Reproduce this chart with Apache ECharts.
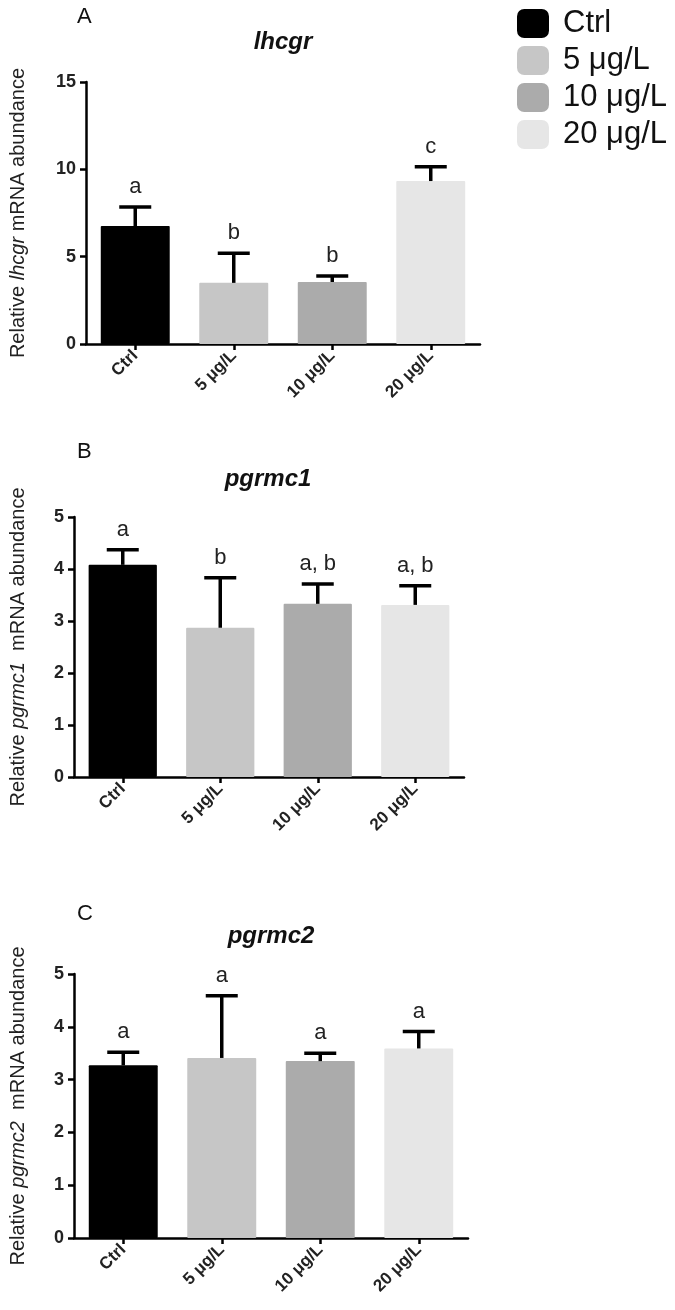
<!DOCTYPE html>
<html>
<head>
<meta charset="utf-8">
<script src="https://cdn.jsdelivr.net/npm/echarts@6/dist/echarts.min.js"></script>
<style>
html,body{margin:0;padding:0;background:#fff;}
#chart{width:675px;height:1310px;}
</style>
</head>
<body>
<div id="chart"></div>
<script>
// ---- data ----
const categories = ['Ctrl', '5 μg/L', '10 μg/L', '20 μg/L'];

const lhcgrMean = [6.75, 3.50, 3.55, 9.33];
const lhcgrErr = [1.09, 1.70, 0.35, 0.82];
const lhcgrLetters = ['a', 'b', 'b', 'c'];

const pgrmc1Mean = [4.08, 2.87, 3.33, 3.31];
const pgrmc1Err = [0.29, 0.96, 0.38, 0.37];
const pgrmc1Letters = ['a', 'b', 'a, b', 'a, b'];

const pgrmc2Mean = [3.27, 3.41, 3.35, 3.59];
const pgrmc2Err = [0.25, 1.18, 0.15, 0.32];
const pgrmc2Letters = ['a', 'a', 'a', 'a'];

const yTicksA = [0, 5, 10, 15];
const yTicksBC = [0, 1, 2, 3, 4, 5];

// ---- style ----
const barColors = ['#000000', '#c6c6c6', '#ababab', '#e6e6e6'];
const FONT = 'Arial, "Liberation Sans", Helvetica, sans-serif';

const panels = [
  { id: 'A', gene: 'lhcgr', mean: lhcgrMean, err: lhcgrErr, letters: lhcgrLetters, ticks: yTicksA,
    grid: { left: 83, top: 82, width: 397, height: 262 }, nameGap: 58, nameSep: ' ',
    tag: { x: 77, y: 6 }, title: { x: 283, y: 42 } },
  { id: 'B', gene: 'pgrmc1', mean: pgrmc1Mean, err: pgrmc1Err, letters: pgrmc1Letters, ticks: yTicksBC,
    grid: { left: 73, top: 517, width: 391, height: 260 }, nameGap: 46, nameSep: '  ',
    tag: { x: 77, y: 441 }, title: { x: 268, y: 479 } },
  { id: 'C', gene: 'pgrmc2', mean: pgrmc2Mean, err: pgrmc2Err, letters: pgrmc2Letters, ticks: yTicksBC,
    grid: { left: 73, top: 974, width: 395, height: 264 }, nameGap: 46, nameSep: '  ',
    tag: { x: 77, y: 903 }, title: { x: 271, y: 936 } }
];

const grids = [], xAxes = [], yAxes = [], series = [], graphics = [];

panels.forEach((p, pi) => {
  grids.push(p.grid);
  const axisLine = { show: true, lineStyle: { color: '#000', width: 2.5 } };
  xAxes.push({
    type: 'category', gridIndex: pi, data: categories,
    axisLine: axisLine,
    axisTick: { show: true, alignWithLabel: true, length: 6, lineStyle: { color: '#000', width: 2.5 } },
    axisLabel: { rotate: 45, margin: 9, fontSize: 17, fontWeight: 'bold', color: '#222', fontFamily: FONT, interval: 0 },
    splitLine: { show: false }
  });
  const tickMax = p.ticks[p.ticks.length - 1];
  yAxes.push({
    type: 'value', gridIndex: pi, min: p.ticks[0], max: tickMax, interval: p.ticks[1] - p.ticks[0],
    axisLine: axisLine,
    axisTick: { show: true, length: 6, lineStyle: { color: '#000', width: 2.5 } },
    axisLabel: { margin: 10, fontSize: 18, fontWeight: 'bold', color: '#222', fontFamily: FONT },
    splitLine: { show: false },
    name: '{n|Relative }{i|' + p.gene + '}{n|' + p.nameSep + 'mRNA abundance}',
    nameLocation: 'middle', nameGap: p.nameGap,
    nameTextStyle: {
      rich: {
        n: { fontSize: 20, color: '#222', fontFamily: FONT },
        i: { fontSize: 20, color: '#222', fontFamily: FONT, fontStyle: 'italic' }
      }
    }
  });
  categories.forEach((c, ci) => {
    series.push({
      name: c, type: 'bar', xAxisIndex: pi, yAxisIndex: pi,
      data: p.mean.map((v, j) => (j === ci ? v : '-')),
      barWidth: '70%', barGap: '-100%',
      itemStyle: { color: barColors[ci], borderRadius: 1 },
      emphasis: { disabled: true },
      z: 2
    });
  });
  series.push({
    type: 'custom', xAxisIndex: pi, yAxisIndex: pi, z: 5,
    data: p.mean.map((m, i) => [i, m, m + p.err[i]]),
    encode: { x: 0, y: [1, 2] },
    renderItem: function (params, api) {
      const base = api.coord([api.value(0), api.value(1)]);
      const top = api.coord([api.value(0), api.value(2)]);
      const cap = 16;
      const ls = { stroke: '#000', lineWidth: 3.5 };
      return {
        type: 'group',
        children: [
          { type: 'line', shape: { x1: base[0], y1: base[1], x2: top[0], y2: top[1] }, style: ls },
          { type: 'line', shape: { x1: top[0] - cap, y1: top[1], x2: top[0] + cap, y2: top[1] }, style: ls },
          { type: 'text', x: top[0], y: top[1] - 9,
            style: { text: p.letters[params.dataIndex], fontSize: 22, fontFamily: FONT, fill: '#222',
                     align: 'center', verticalAlign: 'bottom' } }
        ]
      };
    },
    silent: true
  });
  graphics.push({
    type: 'text', left: p.tag.x, top: p.tag.y,
    style: { text: p.id, fontSize: 22, fontFamily: FONT, fill: '#111' }
  });
  graphics.push({
    type: 'text', x: p.title.x, y: p.title.y,
    style: { text: p.gene, fontSize: 24, fontWeight: 'bold', fontStyle: 'italic', fontFamily: FONT, fill: '#111',
             align: 'center', verticalAlign: 'middle' }
  });
});

const chart = echarts.init(document.getElementById('chart'), null, { renderer: 'canvas' });
chart.setOption({
  animation: false,
  backgroundColor: '#fff',
  grid: grids,
  xAxis: xAxes,
  yAxis: yAxes,
  legend: {
    data: categories, orient: 'vertical', left: 517, top: 8, padding: 0,
    itemWidth: 32, itemHeight: 29, itemGap: 6, icon: 'roundRect',
    textStyle: { fontSize: 31, color: '#111', fontFamily: FONT, lineHeight: 29, padding: [0, 0, 0, 9] },
    selectedMode: false
  },
  graphic: graphics,
  series: series
});
</script>
</body>
</html>
